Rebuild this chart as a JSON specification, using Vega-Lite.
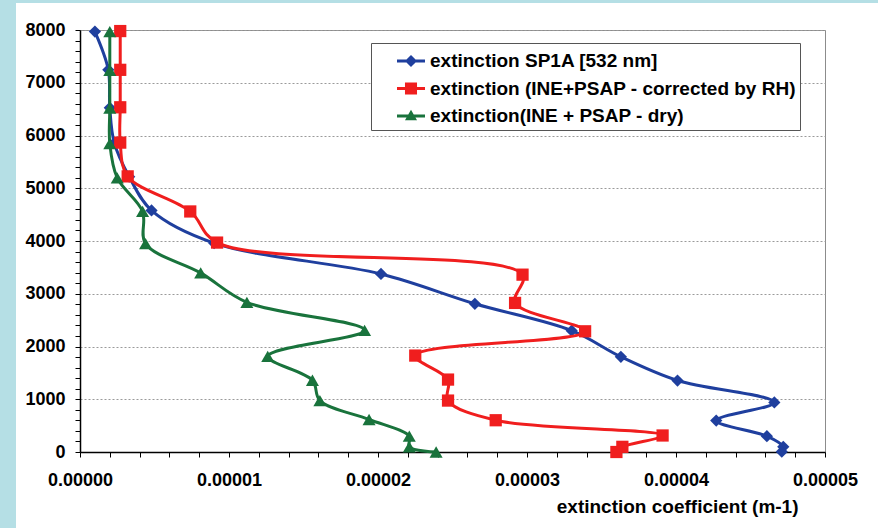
{
  "$schema": "https://vega.github.io/schema/vega-lite/v6.json",
  "background": "white",
  "padding": 0,
  "spacing": 0,
  "bounds": "flush",
  "datasets": {
    "profiles": [
      {"series": "extinction SP1A [532 nm]", "h": 7970, "v": 0.0000010},
      {"series": "extinction SP1A [532 nm]", "h": 7245, "v": 0.0000019},
      {"series": "extinction SP1A [532 nm]", "h": 6525, "v": 0.0000020},
      {"series": "extinction SP1A [532 nm]", "h": 5860, "v": 0.0000023},
      {"series": "extinction SP1A [532 nm]", "h": 5220, "v": 0.0000033},
      {"series": "extinction SP1A [532 nm]", "h": 4580, "v": 0.0000048},
      {"series": "extinction SP1A [532 nm]", "h": 3960, "v": 0.0000090},
      {"series": "extinction SP1A [532 nm]", "h": 3375, "v": 0.0000202},
      {"series": "extinction SP1A [532 nm]", "h": 2810, "v": 0.0000265},
      {"series": "extinction SP1A [532 nm]", "h": 2300, "v": 0.0000330},
      {"series": "extinction SP1A [532 nm]", "h": 1805, "v": 0.0000363},
      {"series": "extinction SP1A [532 nm]", "h": 1355, "v": 0.0000401},
      {"series": "extinction SP1A [532 nm]", "h": 940, "v": 0.0000466},
      {"series": "extinction SP1A [532 nm]", "h": 597, "v": 0.0000427},
      {"series": "extinction SP1A [532 nm]", "h": 299, "v": 0.0000461},
      {"series": "extinction SP1A [532 nm]", "h": 98, "v": 0.0000472},
      {"series": "extinction SP1A [532 nm]", "h": 5, "v": 0.0000471},
      {"series": "extinction (INE+PSAP - corrected by RH)", "h": 7980, "v": 0.0000027},
      {"series": "extinction (INE+PSAP - corrected by RH)", "h": 7245, "v": 0.0000027},
      {"series": "extinction (INE+PSAP - corrected by RH)", "h": 6535, "v": 0.0000027},
      {"series": "extinction (INE+PSAP - corrected by RH)", "h": 5865, "v": 0.0000027},
      {"series": "extinction (INE+PSAP - corrected by RH)", "h": 5225, "v": 0.0000032},
      {"series": "extinction (INE+PSAP - corrected by RH)", "h": 4560, "v": 0.0000074},
      {"series": "extinction (INE+PSAP - corrected by RH)", "h": 3970, "v": 0.0000092},
      {"series": "extinction (INE+PSAP - corrected by RH)", "h": 3362, "v": 0.0000297},
      {"series": "extinction (INE+PSAP - corrected by RH)", "h": 2826, "v": 0.0000292},
      {"series": "extinction (INE+PSAP - corrected by RH)", "h": 2288, "v": 0.0000339},
      {"series": "extinction (INE+PSAP - corrected by RH)", "h": 1828, "v": 0.0000225},
      {"series": "extinction (INE+PSAP - corrected by RH)", "h": 1373, "v": 0.0000247},
      {"series": "extinction (INE+PSAP - corrected by RH)", "h": 975, "v": 0.0000247},
      {"series": "extinction (INE+PSAP - corrected by RH)", "h": 602, "v": 0.0000279},
      {"series": "extinction (INE+PSAP - corrected by RH)", "h": 313, "v": 0.0000391},
      {"series": "extinction (INE+PSAP - corrected by RH)", "h": 98, "v": 0.0000364},
      {"series": "extinction (INE+PSAP - corrected by RH)", "h": 0, "v": 0.0000360},
      {"series": "extinction(INE + PSAP - dry)", "h": 7970, "v": 0.0000020},
      {"series": "extinction(INE + PSAP - dry)", "h": 7235, "v": 0.0000020},
      {"series": "extinction(INE + PSAP - dry)", "h": 6520, "v": 0.0000020},
      {"series": "extinction(INE + PSAP - dry)", "h": 5845, "v": 0.0000020},
      {"series": "extinction(INE + PSAP - dry)", "h": 5195, "v": 0.0000025},
      {"series": "extinction(INE + PSAP - dry)", "h": 4560, "v": 0.0000042},
      {"series": "extinction(INE + PSAP - dry)", "h": 3950, "v": 0.0000044},
      {"series": "extinction(INE + PSAP - dry)", "h": 3395, "v": 0.0000081},
      {"series": "extinction(INE + PSAP - dry)", "h": 2837, "v": 0.0000112},
      {"series": "extinction(INE + PSAP - dry)", "h": 2307, "v": 0.0000191},
      {"series": "extinction(INE + PSAP - dry)", "h": 1814, "v": 0.0000126},
      {"series": "extinction(INE + PSAP - dry)", "h": 1360, "v": 0.0000156},
      {"series": "extinction(INE + PSAP - dry)", "h": 975, "v": 0.0000161},
      {"series": "extinction(INE + PSAP - dry)", "h": 616, "v": 0.0000194},
      {"series": "extinction(INE + PSAP - dry)", "h": 299, "v": 0.0000221},
      {"series": "extinction(INE + PSAP - dry)", "h": 98, "v": 0.0000221},
      {"series": "extinction(INE + PSAP - dry)", "h": 0, "v": 0.0000239}
    ],
    "seriesNames": [
      {"series": "extinction SP1A [532 nm]"},
      {"series": "extinction (INE+PSAP - corrected by RH)"},
      {"series": "extinction(INE + PSAP - dry)"}
    ]
  },
  "hconcat": [
    {
      "width": 13, "height": 528,
      "data": {"values": []},
      "mark": "point",
      "view": {"fill": "#b5dfe5", "stroke": null}
    },
    {
      "spacing": 27,
      "bounds": "flush",
      "vconcat": [
        {
          "width": 865, "height": 3,
          "data": {"values": []},
          "mark": "point",
          "view": {"fill": "#b5dfe5", "stroke": null}
        },
        {
          "spacing": 0,
          "bounds": "flush",
          "hconcat": [
            {
              "width": 67, "height": 10,
              "data": {"values": []},
              "mark": "point",
              "view": {"stroke": null}
            },
            {
              "width": 745,
              "height": 422,
              "data": {"name": "profiles"},
              "view": {"stroke": "#8c8c8c", "strokeWidth": 1},
              "encoding": {
                "x": {
                  "field": "v", "type": "quantitative",
                  "scale": {"domain": [0, 0.00005], "nice": false},
                  "axis": {
                    "values": [0, 0.000002, 0.000004, 0.000006, 0.000008, 0.00001, 0.000012, 0.000014, 0.000016, 0.000018, 0.00002, 0.000022, 0.000024, 0.000026, 0.000028, 0.00003, 0.000032, 0.000034, 0.000036, 0.000038, 0.00004, 0.000042, 0.000044, 0.000046, 0.000048, 0.00005],
                    "labelExpr": "abs(datum.value * 100000 - round(datum.value * 100000)) < 0.001 ? format(datum.value, '.5f') : ''",
                    "labelFontSize": 18,
                    "labelPadding": 14,
                    "labelFlush": false,
                    "labelOverlap": false,
                    "labelBound": false,
                    "grid": false,
                    "title": "extinction coefficient (m-1)",
                    "titleFontSize": 19,
                    "titleX": 718,
                    "titleY": 60,
                    "titleAlign": "right",
                    "titleBaseline": "alphabetic"
                  }
                },
                "y": {
                  "field": "h", "type": "quantitative",
                  "scale": {"domain": [0, 8000], "nice": false},
                  "axis": {
                    "values": [0, 200, 400, 600, 800, 1000, 1200, 1400, 1600, 1800, 2000, 2200, 2400, 2600, 2800, 3000, 3200, 3400, 3600, 3800, 4000, 4200, 4400, 4600, 4800, 5000, 5200, 5400, 5600, 5800, 6000, 6200, 6400, 6600, 6800, 7000, 7200, 7400, 7600, 7800, 8000],
                    "format": "d",
                    "labelExpr": "datum.value % 1000 === 0 ? datum.label : ''",
                    "labelFontSize": 18,
                    "labelPadding": 10,
                    "labelFlush": false,
                    "labelOverlap": false,
                    "labelBound": false,
                    "grid": true,
                    "gridColor": "#9a9a9a",
                    "gridDash": [2, 2],
                    "gridWidth": 1,
                    "gridOpacity": {"condition": {"test": "datum.value % 1000 === 0", "value": 1}, "value": 0},
                    "title": null
                  }
                }
              },
              "layer": [
                {
                  "transform": [{"filter": "datum.series === 'extinction SP1A [532 nm]'"}],
                  "mark": {"type": "line", "interpolate": "catmull-rom", "color": "#1f3f9e", "strokeWidth": 3},
                  "encoding": {"order": {"field": "h", "type": "quantitative", "sort": "descending"}}
                },
                {
                  "transform": [{"filter": "datum.series === 'extinction SP1A [532 nm]'"}],
                  "mark": {"type": "point", "shape": "diamond", "filled": true, "opacity": 1, "size": 150, "color": "#1f3f9e"}
                },
                {
                  "transform": [{"filter": "datum.series === 'extinction (INE+PSAP - corrected by RH)'"}],
                  "mark": {"type": "line", "interpolate": "catmull-rom", "color": "#f01e1e", "strokeWidth": 3},
                  "encoding": {"order": {"field": "h", "type": "quantitative", "sort": "descending"}}
                },
                {
                  "transform": [{"filter": "datum.series === 'extinction (INE+PSAP - corrected by RH)'"}],
                  "mark": {"type": "point", "shape": "square", "filled": true, "opacity": 1, "size": 150, "color": "#f01e1e"}
                },
                {
                  "transform": [{"filter": "datum.series === 'extinction(INE + PSAP - dry)'"}],
                  "mark": {"type": "line", "interpolate": "catmull-rom", "color": "#19733c", "strokeWidth": 3},
                  "encoding": {"order": {"field": "h", "type": "quantitative", "sort": "descending"}}
                },
                {
                  "transform": [{"filter": "datum.series === 'extinction(INE + PSAP - dry)'"}],
                  "mark": {"type": "point", "shape": "triangle-up", "filled": true, "opacity": 1, "size": 170, "color": "#19733c"}
                },
                {
                  "data": {"name": "seriesNames"},
                  "mark": {"type": "point", "filled": true, "opacity": 0},
                  "encoding": {
                    "color": {
                      "field": "series", "type": "nominal",
                      "scale": {
                        "domain": ["extinction SP1A [532 nm]", "extinction (INE+PSAP - corrected by RH)", "extinction(INE + PSAP - dry)"],
                        "range": ["#1f3f9e", "#f01e1e", "#19733c"]
                      },
                      "legend": {"orient": "none", "legendX": 371, "legendY": 43, "title": null}
                    },
                    "shape": {
                      "field": "series", "type": "nominal",
                      "scale": {
                        "domain": ["extinction SP1A [532 nm]", "extinction (INE+PSAP - corrected by RH)", "extinction(INE + PSAP - dry)"],
                        "range": [
                          "M-1,-0.11H1V0.11H-1Z M0,-0.43L0.43,0L0,0.43L-0.43,0Z",
                          "M-1,-0.11H1V0.11H-1Z M-0.43,-0.43H0.43V0.43H-0.43Z",
                          "M-1,-0.11H1V0.11H-1Z M0,-0.45L0.43,0.3H-0.43Z"
                        ]
                      },
                      "legend": {"orient": "none", "legendX": 371, "legendY": 43, "title": null}
                    }
                  }
                }
              ]
            }
          ]
        }
      ]
    },
    {
      "width": 3, "height": 528,
      "data": {"values": []},
      "mark": "point",
      "view": {"fill": "#b5dfe5", "stroke": null}
    }
  ],
  "config": {
    "view": {"stroke": null},
    "axis": {
      "labelFont": "Liberation Sans",
      "labelFontWeight": "bold",
      "labelColor": "#000000",
      "domainColor": "#000000",
      "domainWidth": 1.5,
      "tickColor": "#000000",
      "tickWidth": 1,
      "tickSize": 5,
      "titleFont": "Liberation Sans",
      "titleFontWeight": "bold",
      "titleColor": "#000000"
    },
    "legend": {
      "padding": 4,
      "strokeColor": "#555555",
      "fillColor": "white",
      "cornerRadius": 0,
      "labelFont": "Liberation Sans",
      "labelFontSize": 19,
      "labelFontWeight": "bold",
      "labelColor": "#000000",
      "labelLimit": 600,
      "labelOffset": 5,
      "symbolSize": 784,
      "symbolOpacity": 1,
      "symbolStrokeWidth": 0,
      "symbolOffset": 22,
      "rowPadding": 3.5
    }
  }
}
